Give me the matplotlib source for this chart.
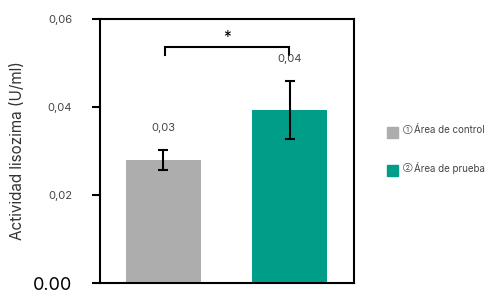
import matplotlib
matplotlib.use("Agg")
import matplotlib.pyplot as plt
from matplotlib.patches import Rectangle

categories = ["Área de control", "Área de prueba"]
legend_marks = ["①", "②"]
values = [0.028, 0.0393]
errors = [0.0023, 0.0066]
value_labels = ["0,03", "0,04"]
colors = ["#adadad", "#009e89"]
yticks = [0.0, 0.02, 0.04, 0.06]
ytick_labels = ["0.00", "0,02", "0,04", "0,06"]

plt.rcParams['font.family'] = ['Inter', 'DejaVu Sans']

fig = plt.figure(figsize=(4.91, 2.98), dpi=100)
ax = fig.add_axes([0.2037, 0.0503, 0.517, 0.886])

x = [0, 1]
ax.bar(x, values, width=0.593, color=colors, zorder=2)
ax.errorbar(x, values, yerr=errors, fmt='none', ecolor='black', elinewidth=1.5,
            capsize=3.5, capthick=1.5, zorder=3)
for xi, v, e, lab in zip(x, values, errors, value_labels):
    ax.text(xi, v + e + 0.0050, lab, ha='center', va='center', fontsize=8, color='#444444')

# significance bracket
yb = 0.0536
ax.plot([0.01, 0.01, 0.99, 0.99], [0.0518, yb, yb, 0.0518], color='black', lw=1.5,
        solid_joinstyle='miter', clip_on=False)
ax.text(0.5, yb + 0.0005, '*', ha='center', va='bottom', fontsize=11, color='black')

ax.set_xlim(-0.502, 1.506)
ax.set_ylim(0, 0.06)
ax.set_xticks([])
ax.set_yticks(yticks)
ax.set_yticklabels(ytick_labels)
for i, t in enumerate(ax.get_yticklabels()):
    if i == 0:
        t.set_fontsize(13)
        t.set_color('black')
    else:
        t.set_fontsize(8)
        t.set_color('#444444')
ax.tick_params(axis='y', direction='out', length=6, width=1.5, pad=14)
for s in ax.spines.values():
    s.set_linewidth(1.5)
ax.set_ylabel('Actividad lisozima (U/ml)', fontsize=11, color='#333333', labelpad=6)

# legend
for i, (c, mark, lab) in enumerate(zip(colors, legend_marks, categories)):
    ytop = 127 + i * 38
    fig.patches.append(Rectangle((387 / 491, 1 - (ytop + 11) / 298), 11 / 491, 11 / 298,
                                 transform=fig.transFigure, color=c))
    fig.text(403 / 491, 1 - (ytop + 2) / 298, mark, fontsize=5, color='#444444', va='center')
    fig.text(414.5 / 491, 1 - (ytop + 3) / 298, lab, fontsize=7, color='#444444', va='center')

fig.savefig('out.png', dpi=100)
